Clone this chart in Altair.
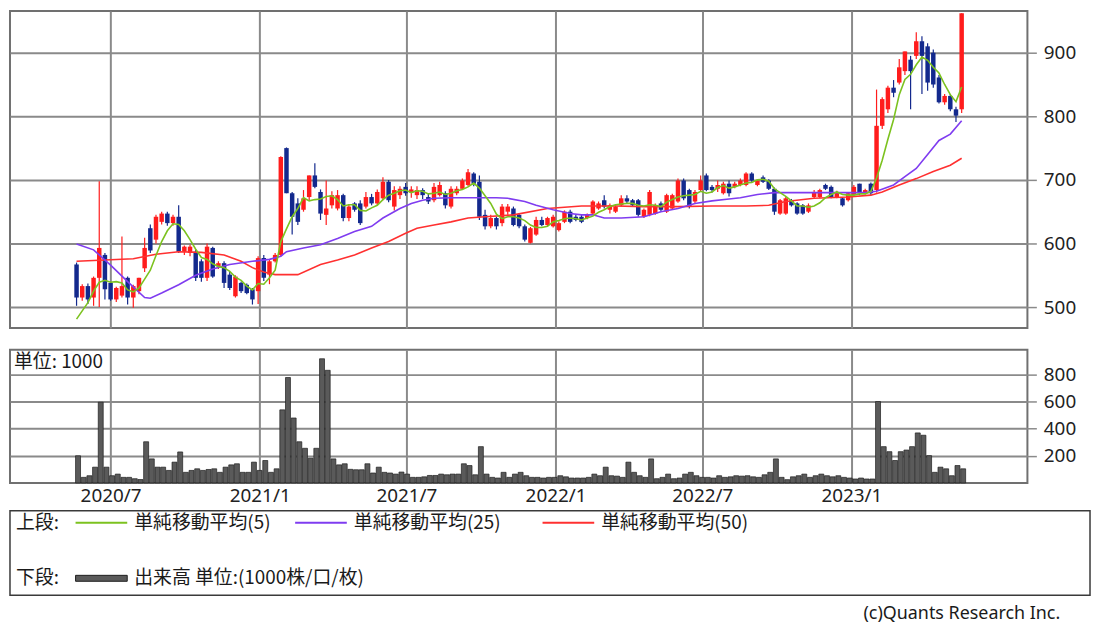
import altair as alt
import pandas as pd

N_WEEKS = 157
week_dates = pd.date_range("2020-05-20", periods=N_WEEKS, freq="7D").strftime("%Y-%m-%dT00:00:00").tolist()

opens = [567,515,533,515,546,582,538,512,518,546,515,525,561,624,606,634,647,632,642,587,
         585,587,572,546,593,564,569,551,517,538,535,528,525,577,551,572,582,750,679,663,
         653,673,707,681,645,660,655,676,640,663,663,658,673,663,671,697,658,676,689,680,
         676,684,673,668,676,679,658,679,686,692,710,697,645,627,640,632,650,655,645,627,
         601,614,637,629,627,621,634,650,642,642,640,647,655,668,653,650,660,671,668,668,
         642,645,647,663,650,655,666,699,684,666,684,707,689,686,679,694,689,692,692,710,
         692,704,699,686,647,647,668,663,660,650,673,673,692,689,673,671,668,676,694,679,
         694,684,785,811,845,853,871,889,895,918,910,900,861,822,832,811,811]
highs = [570,536,537,548,698,585,540,532,611,548,535,546,609,630,645,650,650,645,660,597,
         598,590,575,600,595,572,572,555,550,540,537,530,580,582,574,585,737,751,681,671,
         684,707,726,685,699,682,684,678,662,665,668,681,678,685,704,700,690,690,695,690,
         690,687,678,695,697,682,690,690,702,717,712,707,653,645,642,662,662,658,648,630,
         626,642,642,642,645,635,652,653,645,645,647,668,666,676,663,660,676,676,670,670,
         655,684,663,666,678,678,702,702,686,684,707,710,692,699,697,699,697,702,712,712,
         701,707,701,688,670,673,670,665,662,663,684,686,694,691,683,673,681,692,694,686,
         696,842,830,848,857,890,902,895,932,926,915,905,865,835,835,815,962]
lows = [502,510,505,502,500,512,510,508,515,504,499,520,555,585,600,630,628,628,585,582,
        580,541,540,541,546,560,530,527,515,522,520,504,505,541,536,570,580,679,614,629,
        650,668,687,637,629,655,652,635,635,650,629,655,660,660,668,665,652,670,675,672,
        670,670,662,665,674,655,655,676,684,690,690,637,622,624,622,627,645,627,624,603,
        600,612,627,627,625,619,632,632,635,632,638,645,653,655,647,648,658,663,658,642,
        640,643,645,650,648,653,664,668,655,663,681,682,680,681,677,674,687,690,690,697,
        690,695,684,645,645,645,658,645,645,648,671,671,684,671,671,658,666,674,676,677,
        676,680,780,805,830,850,865,811,890,835,840,845,820,818,808,791,805]
closes = [515,533,512,546,593,528,512,530,533,515,533,546,593,589,642,647,632,642,587,595,
          595,546,546,595,548,569,538,530,548,525,522,512,577,546,572,582,736,679,642,634,
          671,707,689,647,655,676,676,640,658,653,632,673,663,681,697,668,684,686,679,685,
          684,676,666,689,692,660,686,686,699,712,694,642,627,640,627,658,658,629,627,606,
          624,637,629,640,642,632,650,634,637,634,645,666,663,658,660,658,671,666,660,645,
          653,681,660,653,676,676,699,671,658,681,699,684,684,692,694,679,694,699,710,699,
          699,697,686,650,668,671,660,647,647,660,681,684,686,673,681,660,679,689,679,684,
          679,785,827,845,837,877,902,871,918,895,853,850,822,832,811,801,962]

ma5 = [481,494,507,525,539,542,539,540,538,527,524,530,544,558,581,603,620,631,630,620,
       606,591,578,575,568,564,562,556,547,542,533,527,537,536,546,558,603,623,642,655,
       672,667,669,670,674,675,669,659,661,661,652,651,656,660,669,676,679,683,684,680,
       683,682,678,679,681,677,679,683,685,689,695,687,675,663,646,639,642,642,640,636,
       629,625,625,627,634,636,639,640,639,637,640,643,649,653,658,661,662,663,663,660,
       659,661,660,658,665,669,673,675,676,677,682,679,681,688,691,687,689,692,695,696,
       700,701,698,686,680,674,667,659,659,657,659,664,672,677,681,677,676,676,678,678,
       682,703,731,764,795,834,858,866,881,893,888,877,868,850,834,823,846]

ma25_weeks = [0,3,6,9,12,13,15,18,21,24,27,31,34,36,37,40,43,46,49,52,54,57,59,61,63,66,70,74,
              76,79,81,84,87,89,91,93,96,100,103,106,109,112,115,117,120,123,128,134,139,141,
              144,146,148,150,152,154,156]
ma25_vals = [599,590,566,540,515,514,522,535,550,560,567,572,575,580,587,593,598,608,619,627,
             640,655,663,668,671,672,672,672,671,666,660,653,647,645,645,640,640,642,650,655,
             663,667,670,672,677,680,680,680,680,682,692,705,718,740,762,772,793]

ma50_weeks = [0,5,10,14,18,22,26,29,31,33,35,39,43,46,49,52,55,58,60,63,66,69,72,77,83,89,95,
              100,106,112,118,122,125,130,136,140,142,145,148,151,154,156]
ma50_vals = [572,574,576,583,587,586,582,572,562,555,551,551,567,574,582,593,603,616,624,629,
             634,640,642,645,655,659,659,658,658,659,659,660,666,671,673,676,681,692,702,713,
             723,734]

volumes = [200,41,53,116,594,116,53,65,41,41,31,25,303,177,116,116,92,153,228,78,
           92,104,92,99,104,78,116,133,141,78,78,153,92,165,78,104,538,776,478,303,
           255,182,255,914,829,177,133,141,100,97,97,141,73,116,78,73,65,80,65,41,
           41,45,55,55,65,60,65,65,141,128,60,267,65,41,36,78,41,65,78,53,
           41,41,36,41,41,53,45,36,36,36,41,65,53,116,53,50,41,153,78,53,
           41,177,31,41,65,31,36,65,78,53,41,41,36,53,41,45,53,50,53,45,
           41,60,78,177,41,24,45,53,65,41,53,65,53,45,53,41,36,29,36,29,
           29,599,267,230,165,230,242,267,368,351,201,78,116,104,53,128,104]

price_ticks = [500, 600, 700, 800, 900]
volume_ticks = [200, 400, 600, 800]
legend_labels = ["単純移動平均(5)", "単純移動平均(25)", "単純移動平均(50)"]
legend_colors = ["#7cc21f", "#7f3cf0", "#ff3030"]
section_labels = ["上段:", "下段:"]
volume_legend_label = ["出来高 単位:(1000株/口/枚)"]
unit_label = ["単位: 1000"]
credit_label = ["(c)Quants Research Inc."]

UP = "#ff1c1c"
DOWN = "#13298d"
GRID = "#8a8a8a"
NUM_FONT = "Noto Sans"
JP_FONT = "Noto Sans CJK JP"

candles = pd.DataFrame({
    "date": week_dates, "open": opens, "high": highs, "low": lows, "close": closes,
})
candles["dir"] = ["up" if c >= o else "down" for o, c in zip(opens, closes)]
ma5_df = pd.DataFrame({"date": week_dates, "v": ma5})
ma25_df = pd.DataFrame({"date": [week_dates[k] for k in ma25_weeks], "v": ma25_vals})
ma50_df = pd.DataFrame({"date": [week_dates[k] for k in ma50_weeks], "v": ma50_vals})
vol_df = pd.DataFrame({"date": week_dates, "vol": volumes})

grid_dates = [alt.DateTime(year=y, month=m, date=1) for (y, m) in
              [(2020, 7), (2021, 1), (2021, 7), (2022, 1), (2022, 7), (2023, 1)]]
x_scale = alt.Scale(domain=[alt.DateTime(year=2020, month=3, date=5),
                            alt.DateTime(year=2023, month=7, date=31)])

x_price = alt.X("date:T", scale=x_scale,
                axis=alt.Axis(values=grid_dates, grid=True, gridColor=GRID, gridWidth=2,
                              labels=False, ticks=False, domain=False, title=None))
y_scale_p = alt.Scale(domain=[467.2, 965.6], nice=False, zero=False)
y_axis_p = alt.Axis(orient="right", values=price_ticks, grid=True, gridColor=GRID, gridWidth=2,
                    tickSize=9, tickColor=GRID, tickWidth=1.5, domain=False, labelPadding=7,
                    labelFont=NUM_FONT, labelFontSize=19, labelColor="#222222", title=None)
color_dir = alt.Color("dir:N", scale=alt.Scale(domain=["up", "down"], range=[UP, DOWN]), legend=None)

wicks = alt.Chart(candles).mark_rule(strokeWidth=1.2).encode(
    x=x_price, y=alt.Y("low:Q", scale=y_scale_p, axis=y_axis_p), y2="high:Q", color=color_dir)
bodies = alt.Chart(candles).mark_bar(size=4.5).encode(
    x=x_price, y=alt.Y("open:Q", scale=y_scale_p, axis=y_axis_p), y2="close:Q", color=color_dir)

def ma_line(df, col):
    return alt.Chart(df).mark_line(strokeWidth=1.6, color=col).encode(
        x=x_price, y=alt.Y("v:Q", scale=y_scale_p, axis=y_axis_p))

price = alt.layer(wicks, bodies, ma_line(ma50_df, legend_colors[2]),
                  ma_line(ma25_df, legend_colors[1]), ma_line(ma5_df, legend_colors[0])
                  ).properties(width=1024, height=319)

x_vol = alt.X("date:T", scale=x_scale,
              axis=alt.Axis(values=grid_dates, format="%Y/%-m", grid=True, gridColor=GRID, gridWidth=2,
                            labels=True, ticks=False, domain=False, labelPadding=4, labelFlush=False,
                            labelFont=NUM_FONT, labelFontSize=19, labelColor="#222222", title=None))
y_vol = alt.Y("vol:Q", scale=alt.Scale(domain=[0, 980], nice=False),
              axis=alt.Axis(orient="right", values=volume_ticks, grid=True, gridColor=GRID, gridWidth=2,
                            tickSize=9, tickColor=GRID, tickWidth=1.5, domain=False, labelPadding=7,
                            labelFont=NUM_FONT, labelFontSize=19, labelColor="#222222", title=None))
vol_bars = alt.Chart(vol_df).mark_bar(size=5, color="#5a5a5a", stroke="#1e1e1e", strokeWidth=0.7,
                                      xOffset=1.5).encode(x=x_vol, y=y_vol)

def text_layer(labels, x, y, font=JP_FONT, size=19, align="left"):
    return alt.Chart(pd.DataFrame({"t": labels})).mark_text(
        font=font, fontSize=size, align=align, baseline="middle", color="#1a1a1a").encode(
        text="t:N", x=alt.value(x), y=alt.value(y))

def rule_layer(col, x1, x2, y, w=2):
    return alt.Chart(pd.DataFrame({"c": [col]})).mark_rule(strokeWidth=w, color=col).encode(
        x=alt.value(x1), x2=alt.value(x2), y=alt.value(y))

legend_box = alt.Chart(pd.DataFrame({"b": [0]})).mark_rect(
    fillOpacity=0, stroke="#3a3a3a", strokeWidth=1.5).encode(
    x=alt.value(0), x2=alt.value(1087), y=alt.value(162), y2=alt.value(247))
vol_sample = alt.Chart(pd.DataFrame({"b": [0]})).mark_rect(
    color="#5a5a5a", stroke="#1e1e1e", strokeWidth=1).encode(
    x=alt.value(66), x2=alt.value(118), y=alt.value(227), y2=alt.value(233))

volume = alt.layer(
    vol_bars,
    text_layer(unit_label, 4, 12),
    legend_box,
    text_layer(section_labels[:1], 6, 174),
    rule_layer(legend_colors[0], 66, 118, 174),
    text_layer(legend_labels[:1], 125, 174),
    rule_layer(legend_colors[1], 287, 339, 174),
    text_layer(legend_labels[1:2], 346, 174),
    rule_layer(legend_colors[2], 536, 588, 174),
    text_layer(legend_labels[2:], 595, 174),
    text_layer(section_labels[1:], 6, 230),
    vol_sample,
    text_layer(volume_legend_label, 125, 230),
    text_layer(credit_label, 1057, 266, font=NUM_FONT, size=18, align="right"),
).properties(width=1024, height=134)

chart = alt.vconcat(price, volume, spacing=20).properties(
    padding={"left": 0, "top": 0, "right": 0, "bottom": 0}, background="white"
).configure_view(stroke="#707070", strokeWidth=2)

chart.save("out.html", embed_options={"renderer": "svg", "actions": False})
